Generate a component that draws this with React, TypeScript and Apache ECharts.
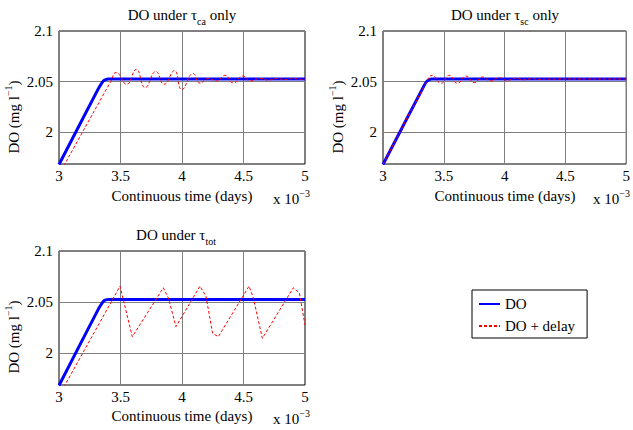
import React, { useEffect, useRef } from "react";
import * as echarts from "echarts";

const FONT = "Liberation Serif";

// axis ticks (x in units of 10^-3 days)
const xTicks = [3, 3.5, 4, 4.5, 5];
const yTicks = [2, 2.05, 2.1];
const xMin = 3;
const xMax = 5;
const yMin = 1.9685;
const yMax = 2.1;

const seriesNames = ["DO", "DO + delay"];

// panel 1: DO under tau_ca only
const doCa: number[][] = [
  [3.0, 1.968], [3.32, 2.043], [3.34, 2.047], [3.36, 2.0505], [3.38, 2.052], [3.4, 2.0525], [5.0, 2.0525],
];
const delayCa: number[][] = [
  [3.0, 1.958], [3.42, 2.05], [3.465, 2.059], [3.55, 2.0473], [3.628, 2.062], [3.7, 2.044],
  [3.787, 2.06], [3.854, 2.0473], [3.938, 2.0608], [3.998, 2.042], [4.09, 2.0579], [4.146, 2.0484],
  [4.214, 2.053], [4.282, 2.0506], [4.35, 2.0562], [4.417, 2.0486], [4.493, 2.0555], [4.553, 2.0506],
  [4.634, 2.053], [4.7, 2.0515], [4.77, 2.053], [4.837, 2.052], [4.905, 2.053], [4.973, 2.052], [5.0, 2.0525],
];

// panel 2: DO under tau_sc only
const doSc: number[][] = [
  [3.0, 1.968], [3.34, 2.0465], [3.36, 2.0502], [3.38, 2.052], [3.4, 2.0525], [5.0, 2.0525],
];
const delaySc: number[][] = [
  [3.0, 1.968], [3.36, 2.05], [3.404, 2.0562], [3.477, 2.0483], [3.545, 2.0562], [3.613, 2.0483],
  [3.682, 2.0555], [3.75, 2.049], [3.818, 2.0545], [3.886, 2.0506], [3.954, 2.0538], [4.02, 2.0512],
  [4.09, 2.0532], [4.16, 2.0518], [4.23, 2.0528], [4.3, 2.0522], [4.4, 2.0525], [5.0, 2.0525],
];

// panel 3: DO under tau_tot
const doTot: number[][] = [
  [3.0, 1.968], [3.32, 2.043], [3.34, 2.047], [3.36, 2.0505], [3.38, 2.052], [3.4, 2.0525], [5.0, 2.0525],
];
const delayTot: number[][] = [
  [3.0, 1.958], [3.496, 2.0655], [3.596, 2.0159], [3.848, 2.0639], [3.889, 2.054], [3.951, 2.0258],
  [4.146, 2.0655], [4.195, 2.0556], [4.249, 2.0192], [4.295, 2.0159], [4.545, 2.0655], [4.58, 2.054],
  [4.653, 2.0143], [4.905, 2.0639], [4.954, 2.0589], [5.0, 2.0275],
];

const titleSubs = ["ca", "sc", "tot"];
const titleTails = [" only", " only", ""];
const xLabel = "Continuous time (days)";

export default function App() {
  const ref = useRef<HTMLDivElement>(null);

  useEffect(() => {
    document.body.style.margin = "0";
    const chart = echarts.init(ref.current!, null, { renderer: "svg" });

    const grids = [
      { left: 59, top: 31, width: 246, height: 133 },
      { left: 383, top: 31, width: 245, height: 133 },
      { left: 59, top: 251, width: 246, height: 134 },
    ];
    const panels = [
      [doCa, delayCa, false],
      [doSc, delaySc, false],
      [doTot, delayTot, true],
    ] as const;

    const xAxis = grids.map((_, i) => ({
      type: "value",
      gridIndex: i,
      min: xMin,
      max: xMax,
      interval: 0.5,
      axisLine: { show: false },
      axisTick: { show: false },
      axisLabel: {
        color: "#000",
        fontFamily: FONT,
        fontSize: 15,
        margin: 4,
        customValues: xTicks,
        formatter: (v: number) => String(v),
      },
      splitLine: { show: true, lineStyle: { color: "#7f7f7f", width: 1 } },
    }));
    const yAxis = grids.map((_, i) => ({
      type: "value",
      gridIndex: i,
      min: yMin,
      max: yMax,
      axisLine: { show: false },
      axisTick: { show: false, customValues: yTicks },
      axisLabel: {
        color: "#000",
        fontFamily: FONT,
        fontSize: 15,
        margin: 6,
        customValues: yTicks,
        formatter: (v: number) => String(Math.round(v * 100) / 100),
      },
      splitLine: { show: true, lineStyle: { color: "#7f7f7f", width: 1 } },
    }));

    const series: any[] = [];
    panels.forEach(([blue, red, sharp], i) => {
      series.push({
        type: "line",
        name: seriesNames[0],
        xAxisIndex: i,
        yAxisIndex: i,
        data: blue,
        symbol: "none",
        smooth: 0.3,
        lineStyle: { color: "#0000ff", width: 3 },
        itemStyle: { color: "#0000ff" },
        z: 2,
      });
      series.push({
        type: "line",
        name: seriesNames[1],
        xAxisIndex: i,
        yAxisIndex: i,
        data: red,
        symbol: "none",
        smooth: sharp ? false : 0.5,
        lineStyle: { color: "#ff0000", width: 1, type: [3, 2] },
        itemStyle: { color: "#ff0000" },
        z: 3,
      });
    });

    const richBase = {
      base: { fontSize: 15, lineHeight: 22, fontFamily: FONT, color: "#000" },
      sub: { fontSize: 10, verticalAlign: "bottom", fontFamily: FONT, color: "#000" },
      sup: { fontSize: 10, verticalAlign: "top", fontFamily: FONT, color: "#000" },
    };

    const titlePos = [
      [182, 15],
      [505, 15],
      [176, 235],
    ];
    const yLabelPos = [
      [14, 117],
      [338, 117],
      [14, 337],
    ];
    const xLabelPos = [
      [182, 196],
      [505, 196],
      [182, 416],
    ];
    const expPos = [
      [273, 199],
      [593, 199],
      [273, 419],
    ];

    const graphic: any[] = [];
    for (let i = 0; i < 3; i++) {
      graphic.push({
        type: "text",
        x: titlePos[i][0],
        y: titlePos[i][1],
        style: {
          text: `{base|DO under τ}{sub|${titleSubs[i]}}{base|${titleTails[i]}}`,
          rich: richBase,
          align: "center",
          verticalAlign: "middle",
        },
      });
      graphic.push({
        type: "text",
        x: yLabelPos[i][0],
        y: yLabelPos[i][1],
        rotation: Math.PI / 2,
        style: {
          text: "{base|DO (mg l}{sup|−1}{base|)}",
          rich: richBase,
          align: "center",
          verticalAlign: "middle",
        },
      });
      graphic.push({
        type: "text",
        x: xLabelPos[i][0],
        y: xLabelPos[i][1],
        style: {
          text: xLabel,
          fontSize: 15,
          fontFamily: FONT,
          fill: "#000",
          align: "center",
          verticalAlign: "middle",
        },
      });
      graphic.push({
        type: "text",
        x: expPos[i][0],
        y: expPos[i][1],
        style: {
          text: "{base|x 10}{sup|−3}",
          rich: richBase,
          align: "left",
          verticalAlign: "middle",
        },
      });
    }

    chart.setOption({
      animation: false,
      grid: grids.map((g) => ({
        ...g,
        show: true,
        borderColor: "#000",
        borderWidth: 1,
        backgroundColor: "transparent",
      })),
      xAxis,
      yAxis,
      series,
      legend: {
        data: seriesNames,
        left: 472,
        top: 290,
        orient: "vertical",
        borderColor: "#000",
        borderWidth: 1,
        padding: [6, 12, 4, 6],
        itemGap: 6,
        itemWidth: 21,
        itemHeight: 14,
        selectedMode: false,
        itemStyle: { opacity: 0 },
        textStyle: { fontFamily: FONT, fontSize: 15, color: "#000", lineHeight: 16 },
      },
      graphic,
    });

    return () => chart.dispose();
  }, []);

  return (
    <div
      ref={ref}
      style={{ position: "absolute", left: 0, top: 0, width: 633, height: 430, background: "#fff" }}
    />
  );
}
